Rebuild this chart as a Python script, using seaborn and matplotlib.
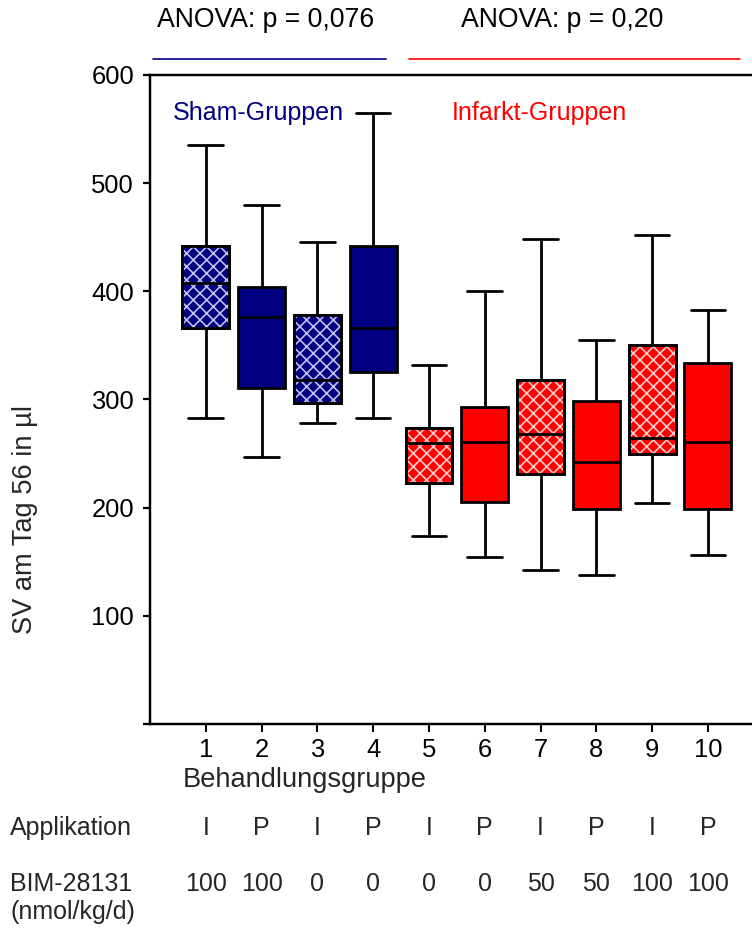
import numpy as np
import pandas as pd
import matplotlib
matplotlib.use("Agg")
import matplotlib.pyplot as plt
import matplotlib.transforms as mtransforms
from matplotlib.patches import PathPatch
import seaborn as sns

# Five-number summaries of stroke volume (µl) on day 56 per treatment group
groups = ["1", "2", "3", "4", "5", "6", "7", "8", "9", "10"]
minimum = [283, 247, 278, 283, 174, 154, 142, 138, 204, 156]
q1 = [366, 311, 297, 325, 223, 205, 231, 199, 250, 199]
median = [408, 376, 318, 366, 260, 261, 268, 242, 264, 261]
q3 = [442, 404, 378, 442, 274, 293, 318, 299, 350, 334]
maximum = [535, 480, 446, 565, 332, 400, 448, 355, 452, 383]

cohort = ["Sham"] * 4 + ["Infarkt"] * 6
application = ["I", "P", "I", "P", "I", "P", "I", "P", "I", "P"]
dose = ["100", "100", "0", "0", "0", "0", "50", "50", "100", "100"]
anova_labels = ["ANOVA: p = 0,076", "ANOVA: p = 0,20"]
cohort_labels = ["Sham-Gruppen", "Infarkt-Gruppen"]
y_ticks = [0, 100, 200, 300, 400, 500, 600]

NAVY = "#000080"
RED = "#ff0000"
HATCH_COLORS = {"Sham": "#c0c0f0", "Infarkt": "#ffcaca"}

# Long table: the five summary values of each group
rows = []
for g, c, vals in zip(groups, cohort, zip(minimum, q1, median, q3, maximum)):
    for v in vals:
        rows.append({"Gruppe": g, "Kohorte": c, "SV": v})
df = pd.DataFrame(rows)

sns.set_theme(style="ticks")
plt.rcParams["font.family"] = ["Liberation Sans", "DejaVu Sans"]
plt.rcParams["hatch.linewidth"] = 1.5

DPI = 80
W, H = 752, 929
fig = plt.figure(figsize=(W / DPI, H / DPI), dpi=DPI)
ax = fig.add_axes([150 / W, 1 - 724 / H, (W - 150) / W, 649 / H])

sns.boxplot(
    data=df, x="Gruppe", y="SV", hue="Kohorte", order=groups,
    hue_order=["Sham", "Infarkt"], palette={"Sham": NAVY, "Infarkt": RED},
    dodge=False, width=0.84, whis=(0, 100), saturation=1,
    linecolor="black", linewidth=2.5, showfliers=False, legend=False,
    capwidths=0.62, ax=ax,
)

# Cross-hatching for the "I" (odd-numbered) groups
for p in list(ax.patches):
    if not isinstance(p, PathPatch):
        continue
    verts = p.get_path().vertices
    idx = int(round((verts[:, 0].min() + verts[:, 0].max()) / 2))
    if idx < 0 or idx >= len(groups) or idx % 2 != 0:
        continue
    hcol = HATCH_COLORS[cohort[idx]]
    z = p.get_zorder()
    ax.add_patch(PathPatch(p.get_path(), transform=p.get_transform(),
                           facecolor="none", edgecolor=hcol, lw=0,
                           hatch="xx", zorder=z + 0.01))
    ax.add_patch(PathPatch(p.get_path(), transform=p.get_transform(),
                           facecolor="none", edgecolor="black",
                           lw=p.get_linewidth(), zorder=z + 0.02))

ax.set_ylim(0, 600)
ax.set_xlim(-1.0, 9.79)
ax.set_yticks(y_ticks)
ax.set_yticklabels(["" if t == 0 else str(t) for t in y_ticks])
ax.set_xticks(range(len(groups)))
ax.set_xticklabels(groups)
ax.set_xlabel("")
ax.set_ylabel("")

for side in ["left", "top", "bottom"]:
    ax.spines[side].set_linewidth(2.2)
    ax.spines[side].set_color("black")
ax.spines["right"].set_visible(False)
ax.tick_params(axis="y", length=6.3, width=2.0, pad=8, labelsize=23,
               colors="black", direction="out")
ax.tick_params(axis="x", length=7, width=1.8, pad=6, labelsize=23,
               colors="black", direction="out")

blend = mtransforms.blended_transform_factory(ax.transData, ax.transAxes)

# ANOVA results above the two cohorts
ax.text(1.075, 1.0847, anova_labels[0], transform=blend, ha="center",
        va="center", fontsize=24, color="black")
ax.text(6.38, 1.0847, anova_labels[1], transform=blend, ha="center",
        va="center", fontsize=24, color="black")
ax.plot([-0.95, 3.23], [1.0247, 1.0247], transform=blend, color=NAVY,
        lw=1.5, clip_on=False)
ax.plot([3.64, 9.58], [1.0247, 1.0247], transform=blend, color=RED,
        lw=1.5, clip_on=False)

# Cohort labels inside the plot
ax.text(-0.59, 565, cohort_labels[0], ha="left", va="center",
        fontsize=22.5, color=NAVY)
ax.text(4.41, 565, cohort_labels[1], ha="left", va="center",
        fontsize=22.5, color=RED)

# Axis titles
fig.text(25 / W, 1 - 520 / H, "SV am Tag 56 in µl", rotation=90,
         ha="center", va="center", fontsize=24.5)
ax.text(1.77, -0.0863, "Behandlungsgruppe", transform=blend, ha="center",
        va="center", fontsize=24.5)

# Treatment table below the axis
fig.text(10 / W, 1 - 828 / H, "Applikation", ha="left", va="center",
         fontsize=22.5)
fig.text(10 / W, 1 - 884 / H, "BIM-28131", ha="left", va="center",
         fontsize=22.5)
fig.text(10 / W, 1 - 912 / H, "(nmol/kg/d)", ha="left", va="center",
         fontsize=22.5)
for i in range(len(groups)):
    ax.text(i, -0.160, application[i], transform=blend, ha="center",
            va="center", fontsize=22.5)
    ax.text(i, -0.2465, dose[i], transform=blend, ha="center",
            va="center", fontsize=22.5)

fig.savefig("out.png", dpi=DPI)
